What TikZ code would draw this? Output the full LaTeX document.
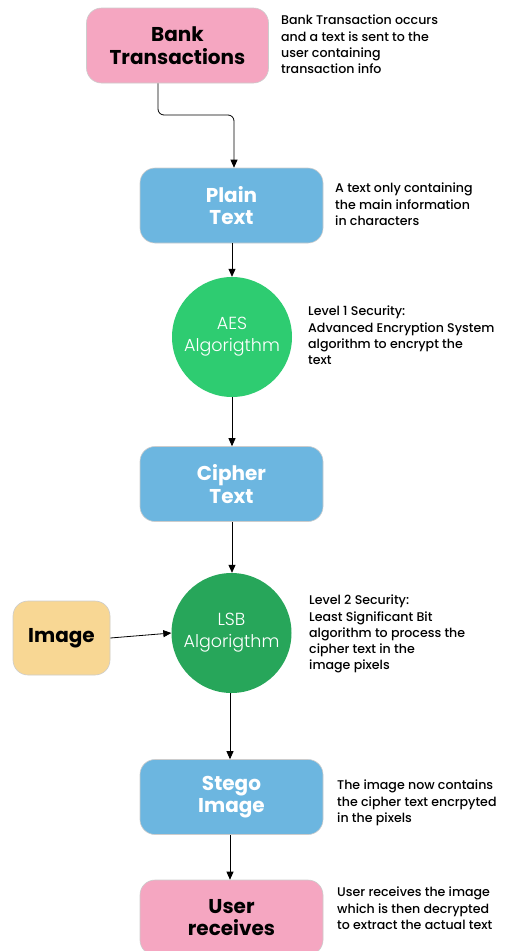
\documentclass[tikz,border=0pt]{standalone}
\usepackage{fontspec}
\setmainfont{Poppins}
\newfontfamily\medfont{Poppins Medium}
\newfontfamily\lightfont{Poppins Light}
\usetikzlibrary{arrows.meta}
\definecolor{pinkbox}{HTML}{F5A6C1}
\definecolor{bluebox}{HTML}{6CB6E0}
\definecolor{aesgreen}{HTML}{2ECC71}
\definecolor{lsbgreen}{HTML}{27A65A}
\definecolor{yellowbox}{HTML}{F8D794}
\tikzset{
  box/.style={rectangle, rounded corners=15pt, draw=black!20, line width=0.6pt,
    minimum width=183pt, minimum height=75pt, align=center, inner sep=0pt,
    font=\fontsize{20}{22.5}\selectfont\bfseries},
  circ/.style={circle, minimum size=120pt, inner sep=0pt, align=center,
    text=white, font=\lightfont\fontsize{17.5}{22}\selectfont},
  desc/.style={anchor=north west, inner sep=0pt, align=left,
    font=\medfont\fontsize{12.6}{16.2}\selectfont},
  arr/.style={-{Triangle[length=8pt,width=7pt]}, line width=0.8pt, black}
}
\begin{document}
\begin{tikzpicture}[x=1pt,y=-1pt]
\useasboundingbox[fill=white] (0,0) rectangle (507,951);
\node[box, fill=pinkbox, minimum width=182pt] (bank) at (177.5,45.5) {Bank\\Transactions};
\node[box, fill=bluebox, text=white] (plain) at (231.5,205.5) {Plain\\Text};
\node[circ, fill=aesgreen] (aes) at (232,337) {AES\\Algorigthm};
\node[box, fill=bluebox, text=white] (cipher) at (231.5,484) {Cipher\\Text};
\node[circ, fill=lsbgreen] (lsb) at (231.5,633) {LSB\\Algorigthm};
\node[box, fill=yellowbox, minimum width=97pt, minimum height=74pt] (image) at (61.5,638) {Image};
\node[box, fill=bluebox, text=white] (stego) at (231.5,797) {Stego\\Image};
\node[box, fill=pinkbox] (user) at (231.5,917.5) {User\\receives};

\node[desc] (d1) at (281,15) {Bank Transaction occurs\\and a text is sent to the\\user containing\\transaction info};
\node[desc] (d2) at (335,183) {A text only containing\\the main information\\in characters};
\node[desc] (d3) at (308,306) {Level 1 Security:\\Advanced Encryption System\\algorithm to encrypt the\\text};
\node[desc] (d4) at (309,595) {Level 2 Security:\\Least Significant Bit\\algorithm to process the\\cipher text in the\\image pixels};
\node[desc] (d5) at (337,780) {The image now contains\\the cipher text encrpyted\\in the pixels};
\node[desc] (d6) at (337,887) {User receives the image\\which is then decrypted\\to extract the actual text};

\coordinate (b1) at (158,115);
\coordinate (b2) at (234,115);
\draw[arr, rounded corners=6pt] (bank.south -| 158,0) -- (b1) -- (b2) -- (plain.north -| b2);
\draw[arr] (plain.south -| aes) -- (aes.north);
\draw[arr] (aes.south) -- (cipher.north -| aes);
\draw[arr] (cipher.south -| aes) -- (lsb.north -| aes);
\draw[arr] (image.east) -- (lsb.west);
\draw[arr] (lsb.south -| 230,0) -- (stego.north -| 230,0);
\draw[arr] (stego.south -| 230,0) -- (user.north -| 230,0);
\end{tikzpicture}
\end{document}
